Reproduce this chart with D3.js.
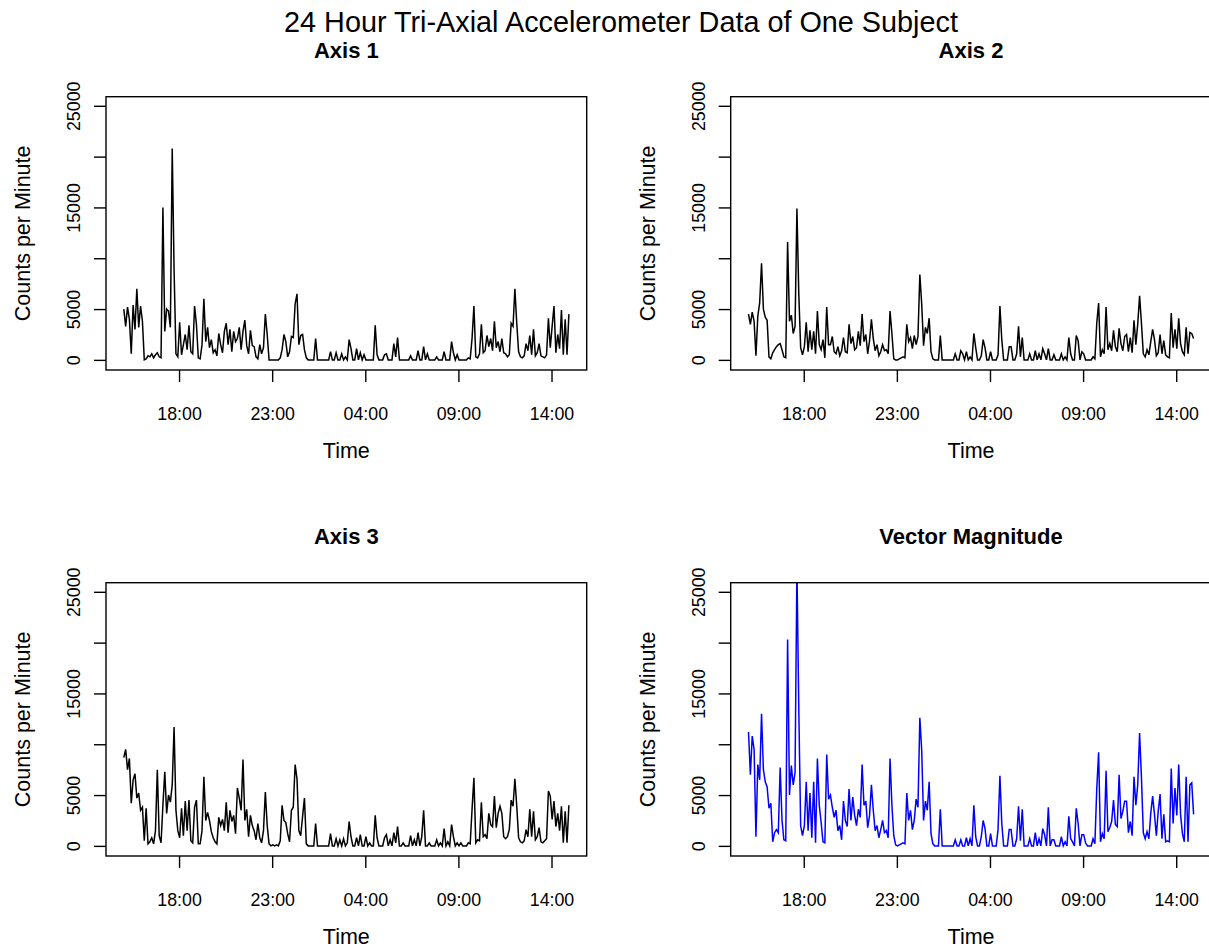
<!DOCTYPE html>
<html>
<head>
<meta charset="utf-8">
<script src="https://cdn.jsdelivr.net/npm/d3@7"></script>
<style>
  body { margin: 0; background: #fff; }
  svg { display: block; }
  text { font-family: "Liberation Sans", Arial, sans-serif; fill: #000; }
</style>
</head>
<body>
<svg id="chart" width="1209" height="949"></svg>
<script>
// one reading every 6 minutes, starting 15:02
const startTime = new Date(2000, 0, 1, 15, 2);
const stepMinutes = 6;

const axis1Counts = [
  5000,3300,5200,4000,600,5400,3000,7000,3200,5300,3800,0,100,400,300,600,200,500,700,300,
  200,15000,2800,5000,4800,3200,20800,8800,600,300,3700,500,1500,2500,1000,3400,800,600,5300,3500,
  200,100,1500,6000,1800,3200,1200,2000,700,1000,400,2600,1500,700,2800,3600,1500,3000,800,2800,
  1800,2100,3200,1000,2800,3900,1400,600,2900,1400,1300,300,100,1500,600,1200,4500,2500,0,0,
  0,0,0,0,200,1000,2500,1800,300,800,2300,2200,5500,6500,1500,2400,2500,1000,200,0,
  0,0,0,2100,0,0,0,0,0,0,0,800,0,0,700,0,0,600,0,300,
  0,2000,1100,0,0,1100,0,700,0,500,0,0,0,0,0,3400,500,0,0,0,
  500,600,0,0,0,1600,300,2200,0,0,0,0,0,0,400,0,0,0,900,0,
  0,1300,0,600,0,0,0,0,300,0,0,0,800,0,0,0,1800,700,0,500,
  0,0,0,0,0,200,100,2100,5300,300,200,600,3500,700,900,2400,1300,2100,900,3800,
  1200,1800,800,2100,700,600,300,500,3600,3300,7000,3600,800,300,200,400,1600,900,2400,500,
  3000,400,700,1600,400,300,200,500,4100,1200,3300,5300,700,2500,1100,4900,500,4000,500,4500
];

const axis2Counts = [
  4500,3500,4700,3800,400,4300,5600,9500,5000,4200,3900,300,100,700,1000,1300,1500,1600,1000,300,
  200,11600,3800,4400,2600,3300,14900,6500,1200,500,1300,3700,800,2900,1000,2800,600,4800,1500,1000,
  2000,200,5200,1500,1500,2300,800,600,1300,400,900,2200,800,700,3500,1600,2300,1000,1200,2800,
  1400,4500,1800,2500,600,1900,4000,2100,900,1500,400,800,1500,900,1000,600,4800,2600,100,0,
  0,100,200,300,200,3500,1800,2200,1100,2400,1500,2300,8400,5500,1400,3200,2600,4100,800,100,
  0,0,0,2400,0,0,0,0,0,0,0,600,0,0,900,600,0,800,0,300,
  0,2600,1200,0,0,400,2000,1200,0,0,800,0,0,0,500,5300,2000,0,0,0,
  1300,1300,0,0,600,3300,300,2200,0,0,0,600,0,0,900,0,600,0,1100,600,
  0,1100,0,0,500,0,0,0,600,0,300,0,2200,600,0,0,2400,1900,0,800,
  600,0,0,0,0,300,100,3600,5600,300,1000,600,5200,1000,1600,900,2900,1300,800,3100,
  1600,900,2300,2500,800,2200,700,3900,1500,3500,6300,3600,600,300,1000,500,1800,3000,2000,400,
  700,2500,600,1900,500,300,200,4600,1200,3000,1100,4100,1600,800,500,3200,600,2700,2600,2100
];

const axis3Counts = [
  8700,9500,7500,8600,4200,6500,7100,4700,5200,3500,3800,500,3700,200,400,800,200,1500,7500,1000,
  300,4000,7300,3200,5000,4300,6000,11700,3500,1500,800,3700,1000,4400,1500,4500,500,300,3800,4500,
  200,200,1500,6800,2500,3300,2500,1400,800,400,200,2800,2000,2600,1500,4300,1300,3500,2400,3000,
  1200,5700,4700,3500,8500,2500,3600,900,3000,2000,1500,600,2200,800,300,1500,5300,2000,200,0,
  100,0,100,0,500,4000,2500,2300,1200,400,3500,3800,8000,6600,1500,1000,2900,4700,200,0,
  0,0,0,2200,0,0,0,0,0,0,0,1200,0,0,700,0,600,0,700,0,
  300,2400,900,0,0,800,0,1100,0,0,900,0,300,0,0,3000,800,0,0,0,
  800,1100,0,600,0,1300,300,1900,0,0,300,0,0,0,1000,0,600,0,1300,0,
  900,3500,0,0,300,0,0,0,600,0,300,0,1700,0,400,0,2100,900,0,300,
  0,300,0,0,0,300,200,3600,6700,300,600,500,4300,900,1100,700,3200,2100,1900,4900,
  1800,3200,3900,3200,900,700,900,1600,4500,3900,6600,3900,800,400,300,500,1600,900,3600,900,
  3400,600,900,1800,400,300,500,700,5400,4900,2600,4400,1900,3200,1500,3900,300,3400,300,4000
];

const vectorMagnitude = [
  11200,7000,10800,9500,900,8000,6500,13000,7500,6300,5800,3700,4200,400,1300,1600,1300,7700,2500,600,
  500,20300,5000,7900,6000,7200,27500,13500,2000,1000,2000,6300,1500,5200,800,6300,300,8600,4000,2300,
  400,300,9000,4600,5000,3800,2800,3500,1500,2000,600,4400,2500,1900,5600,2500,4800,3000,2000,3600,
  2800,8000,4000,4400,1800,3000,6000,3500,1500,2000,800,1600,2500,1300,1500,800,8600,4000,1000,100,
  0,100,200,300,200,5200,2500,3500,1600,2500,4600,3800,12600,9400,2500,4400,3500,6300,1200,200,
  0,0,0,3600,0,0,0,0,0,0,0,600,0,0,600,0,0,800,0,700,
  0,4000,900,0,0,900,2500,1700,0,0,1200,0,0,0,1600,6900,2200,0,0,0,
  1600,1600,0,0,700,3900,500,3600,0,0,0,700,0,0,1300,0,700,0,1700,1100,
  0,3800,0,600,600,0,0,0,900,0,400,0,2900,700,400,0,3700,2200,0,1100,
  1100,300,0,0,0,700,200,5600,9200,400,1200,700,7400,1400,1800,2400,4500,2100,1900,7000,
  2700,3400,4400,4400,1300,2400,1000,6800,4000,6000,11100,6700,1300,700,1400,700,3200,4900,3100,1000,
  3400,5100,700,3100,400,500,400,7600,2200,5700,3000,8000,3100,1200,400,6800,400,6000,6200,3100
];

const panelTitles = ["Axis 1", "Axis 2", "Axis 3", "Vector Magnitude"];
const panelSeries = [axis1Counts, axis2Counts, axis3Counts, vectorMagnitude];
const panelColors = ["#000000", "#000000", "#000000", "#0000ff"];

const xTickTimes = [
  new Date(2000, 0, 1, 18, 0), new Date(2000, 0, 1, 23, 0), new Date(2000, 0, 2, 4, 0),
  new Date(2000, 0, 2, 9, 0), new Date(2000, 0, 2, 14, 0)
];
const xTickLabels = ["18:00", "23:00", "04:00", "09:00", "14:00"];
const yTicks = [0, 5000, 10000, 15000, 20000, 25000];
const yTickLabels = ["0", "5000", "", "15000", "", "25000"];
const yLimits = [0, 24900];

const mainTitle = "24 Hour Tri-Axial Accelerometer Data of One Subject";
const xLabel = "Time";
const yLabel = "Counts per Minute";

// layout (R-style 2x2 panels)
const colW = 624.7, rowH = 486;
const plot = { left: 106, right: 586.7, top: 96.7, bottom: 370 };

const svg = d3.select('#chart');

const times = axis1Counts.map((_, i) => new Date(startTime.getTime() + i * stepMinutes * 60000));
const t0 = times[0].getTime(), t1 = times[times.length - 1].getTime();
const padT = (t1 - t0) * 0.04;
const x = d3.scaleTime()
  .domain([new Date(t0 - padT), new Date(t1 + padT)])
  .range([plot.left, plot.right]);

const padY = (yLimits[1] - yLimits[0]) * 0.04;
const y = d3.scaleLinear()
  .domain([yLimits[0] - padY, yLimits[1] + padY])
  .range([plot.bottom, plot.top]);

svg.append('defs').append('clipPath')
  .attr('id', 'plotClip')
  .append('rect')
  .attr('x', plot.left)
  .attr('y', plot.top)
  .attr('width', plot.right - plot.left)
  .attr('height', plot.bottom - plot.top);

// main title
svg.append('text')
  .attr('x', 621)
  .attr('y', 31.5)
  .attr('text-anchor', 'middle')
  .style('font-size', '28.8px')
  .text(mainTitle);

panelSeries.forEach((series, p) => {
  const col = p % 2, row = Math.floor(p / 2);
  const g = svg.append('g')
    .attr('transform', `translate(${col * colW},${row * rowH})`);

  // data line
  const line = d3.line()
    .x((d, i) => x(times[i]))
    .y(d => y(d));

  g.append('path')
    .datum(series)
    .attr('clip-path', 'url(#plotClip)')
    .attr('fill', 'none')
    .attr('stroke', panelColors[p])
    .attr('stroke-width', 1.5)
    .attr('stroke-linejoin', 'miter')
    .attr('d', line);

  // box
  g.append('rect')
    .attr('x', plot.left)
    .attr('y', plot.top)
    .attr('width', plot.right - plot.left)
    .attr('height', plot.bottom - plot.top)
    .attr('fill', 'none')
    .attr('stroke', '#000')
    .attr('stroke-width', 1.4);

  // x axis
  const xAxis = g.append('g')
    .attr('transform', `translate(0,${plot.bottom})`)
    .call(d3.axisBottom(x).tickValues(xTickTimes).tickFormat((d, i) => xTickLabels[i]).tickSize(12));
  xAxis.select('.domain').remove();
  xAxis.selectAll('line').attr('stroke', '#000').attr('stroke-width', 1.4);
  xAxis.selectAll('text')
    .attr('y', 50)
    .attr('dy', null)
    .attr('font-family', null)
    .style('font-size', '17.8px');

  // y axis
  const yAxis = g.append('g')
    .attr('transform', `translate(${plot.left},0)`)
    .call(d3.axisLeft(y).tickValues(yTicks).tickFormat((d, i) => yTickLabels[i]).tickSize(12));
  yAxis.select('.domain').remove();
  yAxis.selectAll('line').attr('stroke', '#000').attr('stroke-width', 1.4);
  yAxis.selectAll('text')
    .attr('x', null)
    .attr('dy', null)
    .attr('text-anchor', 'middle')
    .attr('transform', 'translate(-26,0) rotate(-90)')
    .attr('font-family', null)
    .style('font-size', '17.8px');

  // axis labels
  g.append('text')
    .attr('x', (plot.left + plot.right) / 2)
    .attr('y', 458)
    .attr('text-anchor', 'middle')
    .style('font-size', '21.5px')
    .text(xLabel);

  g.append('text')
    .attr('transform', `translate(30,${(plot.top + plot.bottom) / 2}) rotate(-90)`)
    .attr('text-anchor', 'middle')
    .style('font-size', '21.5px')
    .text(yLabel);

  // panel title
  g.append('text')
    .attr('x', (plot.left + plot.right) / 2)
    .attr('y', 58)
    .attr('text-anchor', 'middle')
    .style('font-size', '22px')
    .style('font-weight', 'bold')
    .text(panelTitles[p]);
});
</script>
</body>
</html>
